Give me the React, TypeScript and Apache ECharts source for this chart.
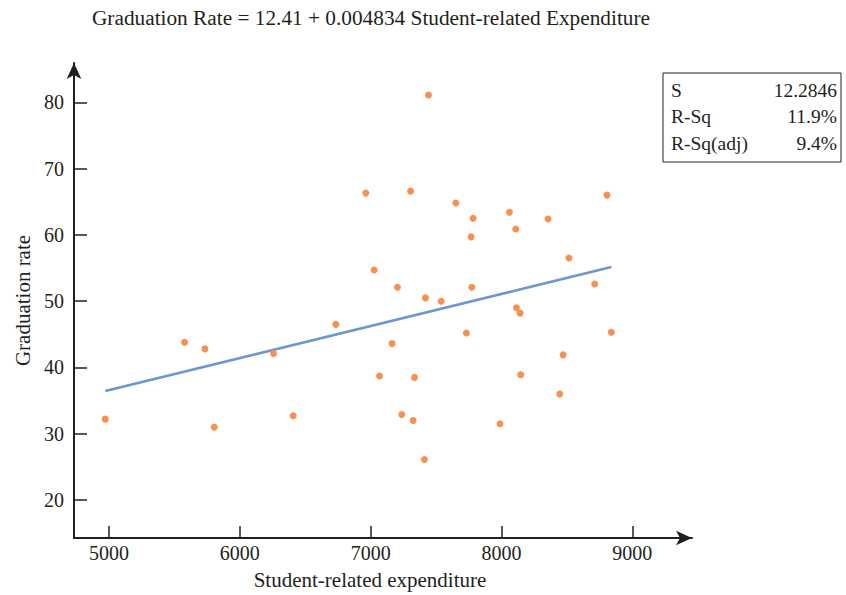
import React, { useEffect, useRef } from "react";
import * as echarts from "echarts";

const expenditure: number[] = [
  4972, 5578, 5733, 5805, 6258, 6408, 6734, 6963, 7027, 7068,
  7164, 7205, 7238, 7305, 7325, 7335, 7411, 7419, 7442, 7539,
  7651, 7732, 7768, 7773, 7783, 7989, 8061, 8109, 8114, 8142,
  8147, 8356, 8445, 8471, 8516, 8713, 8807, 8840,
];
const gradRate: number[] = [
  32.2, 43.8, 42.8, 31.0, 42.1, 32.7, 46.5, 66.3, 54.7, 38.7,
  43.6, 52.1, 32.9, 66.6, 32.0, 38.5, 26.1, 50.5, 81.1, 50.0,
  64.8, 45.2, 59.7, 52.1, 62.5, 31.5, 63.4, 60.9, 49.0, 48.2,
  38.9, 62.4, 36.0, 41.9, 56.5, 52.6, 66.0, 45.3,
];
const intercept = 12.41;
const slope = 0.004834;
const xTicks: number[] = [5000, 6000, 7000, 8000, 9000];
const yTicks: number[] = [20, 30, 40, 50, 60, 70, 80];
const statLabels: string[] = ["S", "R-Sq", "R-Sq(adj)"];
const statValues: string[] = ["12.2846", "11.9%", "9.4%"];
const titleText = "Graduation Rate = 12.41 + 0.004834 Student-related Expenditure";
const xName = "Student-related expenditure";
const yName = "Graduation rate";

const FONT = "'Liberation Serif', 'Times New Roman', serif";
const INK = "#231f20";

export default function App() {
  const ref = useRef<HTMLDivElement>(null);
  useEffect(() => {
    if (!ref.current) return;
    const chart = echarts.init(ref.current, undefined, { renderer: "svg" });
    const xMin = Math.min(...expenditure);
    const xMax = Math.max(...expenditure);
    const fit = [
      [xMin, intercept + slope * xMin],
      [xMax, intercept + slope * xMax],
    ];
    const pts = expenditure.map((x, i) => [x, gradRate[i]]);

    const statGraphics: any[] = [
      {
        type: "rect",
        shape: { x: 663, y: 73, width: 178, height: 89 },
        style: { fill: "#fff", stroke: INK, lineWidth: 1 },
      },
    ];
    statLabels.forEach((l, i) => {
      statGraphics.push({
        type: "text",
        x: 671,
        y: 90 + i * 26.5,
        style: {
          text: l,
          font: `19.5px ${FONT}`,
          fill: INK,
          textAlign: "left",
          textVerticalAlign: "middle",
        },
      });
      statGraphics.push({
        type: "text",
        x: 837,
        y: 90 + i * 26.5,
        style: {
          text: statValues[i],
          font: `19.5px ${FONT}`,
          fill: INK,
          textAlign: "right",
          textVerticalAlign: "middle",
        },
      });
    });

    chart.setOption({
      animation: false,
      backgroundColor: "#fff",
      textStyle: { fontFamily: FONT, color: INK },
      grid: { left: 74, right: 154, top: 63, bottom: 57, containLabel: false },
      xAxis: {
        type: "value",
        min: 4733,
        max: 9456,
        name: xName,
        nameLocation: "middle",
        nameGap: 31,
        nameTextStyle: {
          fontFamily: FONT,
          fontSize: 21,
          color: INK,
          padding: [0, 26, 0, 0],
        },
        axisLine: {
          show: true,
          symbol: ["none", "arrow"],
          symbolSize: [11, 16],
          lineStyle: { color: INK, width: 2 },
        },
        axisTick: {
          show: true,
          inside: true,
          length: 12,
          customValues: xTicks,
          lineStyle: { color: INK, width: 1.5 },
        },
        axisLabel: {
          customValues: xTicks,
          formatter: (v: number) => String(v),
          fontFamily: FONT,
          fontSize: 20,
          color: INK,
          margin: 5,
        },
        splitLine: { show: false },
      },
      yAxis: {
        type: "value",
        min: 14.27,
        max: 85.93,
        name: yName,
        nameLocation: "middle",
        nameGap: 41,
        nameRotate: 90,
        nameTextStyle: { fontFamily: FONT, fontSize: 21, color: INK },
        axisLine: {
          show: true,
          symbol: ["none", "arrow"],
          symbolSize: [11, 16],
          lineStyle: { color: INK, width: 2 },
        },
        axisTick: {
          show: true,
          inside: true,
          length: 13,
          customValues: yTicks,
          lineStyle: { color: INK, width: 1.5 },
        },
        axisLabel: {
          customValues: yTicks,
          formatter: (v: number) => String(v),
          fontFamily: FONT,
          fontSize: 20,
          color: INK,
          margin: 10,
        },
        splitLine: { show: false },
      },
      series: [
        {
          type: "line",
          data: fit,
          symbol: "none",
          lineStyle: { color: "#6f95d2", width: 2.5 },
          z: 2,
        },
        {
          type: "scatter",
          data: pts,
          symbol: "circle",
          symbolSize: 7,
          itemStyle: { color: "#f5924f", opacity: 1 },
          z: 3,
        },
      ],
      graphic: [
        {
          type: "text",
          x: 371,
          y: 18,
          style: {
            text: titleText,
            font: `21.3px ${FONT}`,
            fill: INK,
            textAlign: "center",
            textVerticalAlign: "middle",
          },
        },
        ...statGraphics,
      ],
    });
    return () => chart.dispose();
  }, []);
  return (
    <div
      ref={ref}
      style={{ position: "fixed", left: 0, top: 0, width: 846, height: 595, background: "#fff" }}
    />
  );
}
